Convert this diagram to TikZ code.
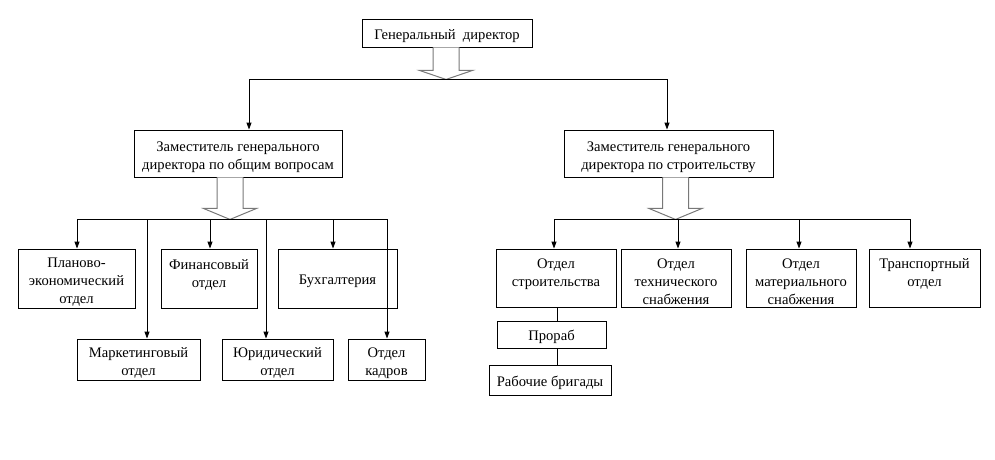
\documentclass[tikz,border=0pt]{standalone}
\usepackage{fontspec}
\setmainfont{Liberation Serif}
\usepackage{tikz}
\usetikzlibrary{arrows.meta, positioning, calc}
\definecolor{shaftgray}{RGB}{120,120,120}

\begin{document}
\begin{tikzpicture}[x=1pt, y=-1pt,
  box/.style={draw, line width=0.9pt, inner sep=0pt, align=center,
    font=\fontsize{14.6}{18}\selectfont,
    execute at begin node={\rule{0pt}{16pt}}},
  multibox/.style={box, execute at begin node={\rule{0pt}{#1}}},
  conn/.style={-{Triangle[length=7pt,width=5pt]}, line width=0.9pt},
  link/.style={line width=0.9pt},
  hollow/.style={draw=shaftgray, line width=1pt, fill=white}]
  \useasboundingbox (0,0) rectangle (995,460);
  % Top level
  \node[box, minimum width=170pt, minimum height=28pt] (gd) at (447,33) {Генеральный \ директор};
  \node[multibox=35pt, minimum width=208pt, minimum height=47pt] (dep1) at (238,153.5) {Заместитель генерального\\директора по общим вопросам};
  \node[multibox=35pt, minimum width=209pt, minimum height=47pt] (dep2) at (668.5,153.5) {Заместитель генерального\\директора по строительству};
  % Left branch
  \node[multibox=53pt, minimum width=117pt, minimum height=59pt] (plan) at (76.5,278.5) {Планово-\\экономический\\отдел};
  \node[multibox=53pt, minimum width=96pt, minimum height=59pt] (fin) at (209,278.5) {Финансовый\\отдел\\~};
  \node[box, minimum width=119pt, minimum height=59pt] (buh) at (337.5,278.5) {Бухгалтерия};
  \node[multibox=35pt, minimum width=123pt, minimum height=41pt] (mark) at (138.5,359.5) {Маркетинговый\\отдел};
  \node[multibox=35pt, minimum width=111pt, minimum height=41pt] (jur) at (277.5,359.5) {Юридический\\отдел};
  \node[multibox=35pt, minimum width=77pt, minimum height=41pt] (kadr) at (386.5,359.5) {Отдел\\кадров};
  % Right branch
  \node[multibox=53pt, minimum width=120pt, minimum height=58pt] (str) at (556,278) {Отдел\\строительства\\~};
  \node[multibox=53pt, minimum width=110pt, minimum height=58pt] (teh) at (676,278) {Отдел\\технического\\снабжения};
  \node[multibox=53pt, minimum width=110pt, minimum height=58pt] (mat) at (801,278) {Отдел\\материального\\снабжения};
  \node[multibox=53pt, minimum width=111pt, minimum height=58pt] (trans) at (924.5,278) {Транспортный\\отдел\\~};
  \node[box, minimum width=109pt, minimum height=27pt] (prorab) at (551.5,334.5) {Прораб};
  \node[box, minimum width=122pt, minimum height=30pt] (brig) at (550,380) {Рабочие бригады};
  % Hollow arrows
  \foreach \n/\dx/\s/\h/\t in {gd/-1/23/9/a, dep1/-8/31/11/b, dep2/7/31/11/c} {
    \coordinate (tip\t) at ($(\n.south)+(\dx,\s+\h)$);
    \draw[hollow] ($(tip\t)+(-13,-\s-\h)$) -- ++(0,\s) -- ++(-13.5,0) -- (tip\t)
      -- ++(26.5,-\h) -- ++(-13.5,0) -- ++(0,-\s);
  }
  % Connectors
  \draw[conn] (tipa) -| ($(dep1.north)+(11,0)$);
  \draw[conn] (tipa) -| ($(dep2.north)+(-1.5,0)$);
  \foreach \b/\dx in {plan/0.5, mark/8.5, fin/1, jur/-11.5, buh/-4.5, kadr/0.5}
    \draw[conn] (tipb) -| ($(\b.north)+(\dx,0)$);
  \foreach \b/\dx in {str/-2, teh/2, mat/-2, trans/-14.5}
    \draw[conn] (tipc) -| ($(\b.north)+(\dx,0)$);
  \draw[link] ($(str.south)+(1,0)$) -- ($(prorab.north)+(5.5,0)$);
  \draw[link] ($(prorab.south)+(5.5,0)$) -- ($(brig.north)+(7,0)$);
\end{tikzpicture}
\end{document}
